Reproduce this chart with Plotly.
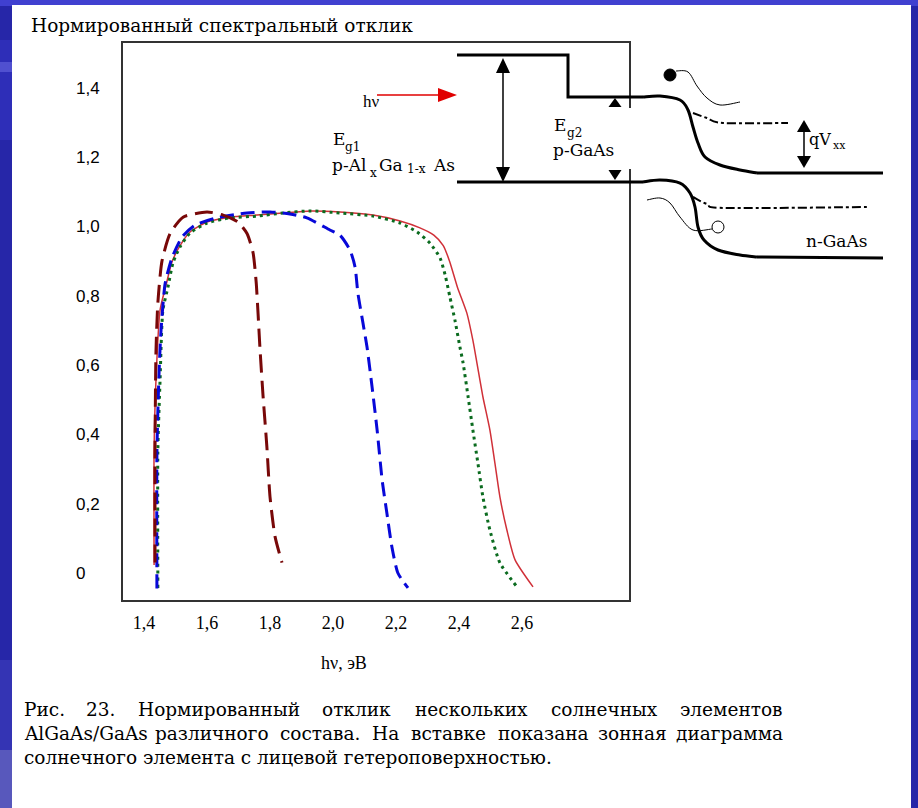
import plotly.graph_objects as go

W, H = 918, 808

# ---------------- data ----------------
x_ticks = [1.4, 1.6, 1.8, 2.0, 2.2, 2.4, 2.6]
x_ticktext = ["1,4", "1,6", "1,8", "2,0", "2,2", "2,4", "2,6"]
y_ticks = [0, 0.2, 0.4, 0.6, 0.8, 1.0, 1.2, 1.4]
y_ticktext = ["0\u2007\u2008", "0,2", "0,4", "0,6", "0,8", "1,0", "1,2", "1,4"]

maroon_x = [1.435, 1.435, 1.438, 1.444, 1.457, 1.483, 1.524, 1.600, 1.651, 1.698,
            1.727, 1.746, 1.756, 1.762, 1.768, 1.778, 1.790, 1.800, 1.816, 1.838]
maroon_y = [0.03, 0.35, 0.64, 0.78, 0.90, 0.98, 1.027, 1.042, 1.033, 1.013,
            0.98, 0.925, 0.84, 0.75, 0.65, 0.51, 0.365, 0.22, 0.105, 0.03]

blue_x = [1.441, 1.441, 1.448, 1.454, 1.467, 1.489, 1.521, 1.562, 1.632, 1.727,
          1.800, 1.863, 1.917, 1.990, 2.022, 2.054, 2.070, 2.079, 2.095, 2.108,
          2.124, 2.140, 2.156, 2.171, 2.187, 2.206, 2.238]
blue_y = [-0.045, 0.35, 0.585, 0.70, 0.835, 0.91, 0.97, 1.004, 1.025, 1.039,
          1.042, 1.036, 1.025, 0.99, 0.975, 0.932, 0.883, 0.808, 0.722, 0.652,
          0.537, 0.413, 0.268, 0.173, 0.075, 0.0, -0.043]

green_x = [1.444, 1.444, 1.451, 1.460, 1.476, 1.492, 1.514, 1.546, 1.600, 1.673,
           1.759, 1.841, 1.927, 2.022, 2.127, 2.213, 2.267, 2.308, 2.340, 2.356,
           2.371, 2.387, 2.403, 2.413, 2.429, 2.444, 2.460, 2.476, 2.498, 2.530, 2.584]
green_y = [-0.043, 0.355, 0.557, 0.759, 0.825, 0.895, 0.941, 0.981, 1.010, 1.025,
           1.030, 1.039, 1.045, 1.039, 1.030, 1.010, 0.984, 0.952, 0.909, 0.860,
           0.797, 0.730, 0.652, 0.606, 0.508, 0.413, 0.317, 0.219, 0.124, 0.029, -0.040]

red_x = [1.432, 1.432, 1.438, 1.451, 1.470, 1.489, 1.514, 1.546, 1.600, 1.673,
         1.759, 1.841, 1.927, 2.022, 2.127, 2.213, 2.276, 2.320, 2.350, 2.370,
         2.395, 2.425, 2.444, 2.457, 2.476, 2.498, 2.514, 2.530, 2.552, 2.578, 2.635]
red_y = [0.023, 0.355, 0.557, 0.759, 0.831, 0.898, 0.944, 0.984, 1.013, 1.027,
         1.033, 1.039, 1.045, 1.042, 1.033, 1.016, 0.996, 0.975, 0.945, 0.900,
         0.825, 0.750, 0.672, 0.606, 0.508, 0.413, 0.317, 0.219, 0.124, 0.038, -0.040]

title_text = "Нормированный спектральный отклик"
xlabel_text = "hν, эВ"
caption_lines = [
    "Рис. 23. Нормированный отклик нескольких солнечных элементов",
    "AlGaAs/GaAs различного состава. На вставке показана зонная диаграмма",
    "солнечного элемента с лицевой гетероповерхностью.",
]

# ---------------- helpers (pixel -> paper) ----------------
def PX(x):
    return x / W


def PY(y):
    return 1 - y / H


def poly(pts):
    return "M " + " L ".join(f"{PX(x):.5f},{PY(y):.5f}" for x, y in pts)


def smooth(pts):
    P = [(PX(x), PY(y)) for x, y in pts]
    d = f"M {P[0][0]:.5f},{P[0][1]:.5f}"
    for i in range(len(P) - 1):
        p0 = P[i - 1] if i > 0 else P[i]
        p1, p2 = P[i], P[i + 1]
        p3 = P[i + 2] if i + 2 < len(P) else P[i + 1]
        c1 = (p1[0] + (p2[0] - p0[0]) / 6, p1[1] + (p2[1] - p0[1]) / 6)
        c2 = (p2[0] - (p3[0] - p1[0]) / 6, p2[1] - (p3[1] - p1[1]) / 6)
        d += f" C {c1[0]:.5f},{c1[1]:.5f} {c2[0]:.5f},{c2[1]:.5f} {p2[0]:.5f},{p2[1]:.5f}"
    return d


def tri(tip, direction, w=12, h=13):
    x, y = tip
    if direction == "up":
        pts = [(x, y), (x - w / 2, y + h), (x + w / 2, y + h)]
    elif direction == "down":
        pts = [(x, y), (x - w / 2, y - h), (x + w / 2, y - h)]
    else:  # right
        pts = [(x, y), (x - h, y - w / 2), (x - h, y + w / 2)]
    return poly(pts) + " Z"


SERIF = "DejaVu Serif"
TSERIF = "Liberation Serif"
SANS = "Liberation Sans"

fig = go.Figure()

fig.add_trace(go.Scatter(x=red_x, y=red_y, mode="lines",
                         line=dict(color="#d03038", width=1.5, shape="spline", smoothing=0.6),
                         showlegend=False, hoverinfo="skip"))
fig.add_trace(go.Scatter(x=green_x, y=green_y, mode="lines",
                         line=dict(color="#0b6b1f", width=3, dash="3px,4px", shape="spline", smoothing=0.6),
                         showlegend=False, hoverinfo="skip"))
fig.add_trace(go.Scatter(x=blue_x, y=blue_y, mode="lines",
                         line=dict(color="#0808d8", width=3, dash="14px,7px", shape="spline", smoothing=0.6),
                         showlegend=False, hoverinfo="skip"))
fig.add_trace(go.Scatter(x=maroon_x, y=maroon_y, mode="lines",
                         line=dict(color="#780808", width=3, dash="18px,8px", shape="spline", smoothing=0.6),
                         showlegend=False, hoverinfo="skip"))

shapes = []


def rect_below(x0, y0, x1, y1, color):
    shapes.append(dict(type="rect", xref="paper", yref="paper", layer="below",
                       x0=PX(x0), x1=PX(x1), y0=PY(y1), y1=PY(y0),
                       fillcolor=color, line=dict(width=0)))


# slide background (blue frame) and the white page
rect_below(0, 0, 918, 6, "#4040d0")
rect_below(0, 40, 12, 140, "#2e2eb8")
rect_below(0, 62, 12, 72, "#5050d0")
rect_below(0, 660, 12, 808, "#3434b4")
rect_below(0, 750, 12, 808, "#5858bc")
rect_below(911, 380, 918, 440, "#4a4ad8")
rect_below(12, 5, 911, 808, "white")

BLK = dict(color="black", width=3)
THIN = dict(color="black", width=1)


def sh_path(path, line=None, fill=None):
    d = dict(type="path", xref="paper", yref="paper", path=path, layer="above")
    d["line"] = line if line else dict(width=0)
    if fill:
        d["fillcolor"] = fill
    shapes.append(d)


# cover the frame where the inset sits
shapes.append(dict(type="rect", xref="paper", yref="paper", layer="above",
                   x0=PX(625), x1=PX(633), y0=PY(169), y1=PY(108),
                   fillcolor="white", line=dict(width=0)))

# conduction band edge
sh_path(poly([(457, 55), (568, 55), (568, 97), (643, 97)]), BLK)
sh_path(smooth([(643, 97), (660, 96), (680, 100), (688, 110), (693, 127), (698, 143),
                (705, 157), (720, 165), (740, 170), (757, 173)]), BLK)
sh_path(poly([(757, 173), (883, 173)]), BLK)
# valence band edge
sh_path(poly([(457, 182), (643, 182)]), BLK)
sh_path(smooth([(643, 182), (660, 180), (680, 183), (690, 193), (695, 207), (698, 227),
                (704, 240), (718, 250), (740, 255), (757, 257)]), BLK)
sh_path(poly([(757, 257), (883, 258)]), BLK)
# quasi-Fermi levels
sh_path(smooth([(693, 113), (707, 118), (723, 123), (788, 123)]),
        dict(color="black", width=2, dash="dashdot"))
sh_path(smooth([(693, 197), (707, 204), (727, 208), (867, 207)]),
        dict(color="black", width=2, dash="dashdot"))
# Eg1 double arrow
sh_path(poly([(503, 66), (503, 174)]), dict(color="black", width=1.5))
sh_path(tri((503, 58), "up", 14, 15), None, "black")
sh_path(tri((503, 182), "down", 14, 15), None, "black")
# Eg2 arrowheads
sh_path(tri((615, 98), "up", 13, 9), None, "black")
sh_path(tri((615, 180), "down", 13, 10), None, "black")
# qV arrow
sh_path(poly([(804, 128), (804, 160)]), dict(color="black", width=1.5))
sh_path(tri((804, 120), "up", 14, 12), None, "black")
sh_path(tri((804, 168), "down", 14, 12), None, "black")
# h nu red arrow
sh_path(poly([(377, 95), (442, 95)]), dict(color="#e00000", width=1.5))
sh_path(tri((457, 95), "right", 14, 19), None, "#e00000")
# electron and hole with their paths
shapes.append(dict(type="circle", xref="paper", yref="paper", layer="above",
                   x0=PX(664), x1=PX(676), y0=PY(81), y1=PY(69),
                   fillcolor="black", line=dict(color="black", width=1)))
sh_path(smooth([(676, 71), (688, 72), (697, 86), (707, 98), (720, 105), (740, 102)]), THIN)
shapes.append(dict(type="circle", xref="paper", yref="paper", layer="above",
                   x0=PX(712), x1=PX(724), y0=PY(233), y1=PY(221),
                   fillcolor="white", line=dict(color="black", width=1)))
sh_path(smooth([(647, 200), (660, 198), (670, 203), (680, 217), (693, 230), (712, 229)]), THIN)

annotations = []


def ann(text, x, y, size=17, font=SERIF, xanchor="left"):
    annotations.append(dict(text=text, x=PX(x), y=PY(y), xref="paper", yref="paper",
                            xanchor=xanchor, yanchor="middle", showarrow=False,
                            font=dict(family=font, size=size, color="black")))


# approximate advance widths (em) for DejaVu Serif, used to justify caption lines
NARROW = {".": 0.32, ",": 0.32, "/": 0.34, "l": 0.32, "s": 0.53, "ы": 0.88, "ю": 0.89,
          "м": 0.79, "Н": 0.75, "A": 0.72, "G": 0.77, "Р": 0.65, "г": 0.5, "з": 0.52,
          "с": 0.55, "э": 0.56, "т": 0.58, "е": 0.59, "2": 0.64, "3": 0.64}


def est_width(word, size):
    return sum(NARROW.get(c, 0.62) for c in word) * size


CAP_SIZE = 18.5


def justified(line, x0, x1, y):
    words = line.split(" ")
    widths = [est_width(w, CAP_SIZE) for w in words]
    gap = (x1 - x0 - sum(widths)) / (len(words) - 1)
    x = x0
    for i, (w, wd) in enumerate(zip(words, widths)):
        if i == 0:
            ann(w, x0, y, size=CAP_SIZE, xanchor="left")
        elif i == len(words) - 1:
            ann(w, x1, y, size=CAP_SIZE, xanchor="right")
        else:
            ann(w, x + wd / 2, y, size=CAP_SIZE, xanchor="center")
        x += wd + gap


ann(title_text, 29, 25, size=18.5)
ann(xlabel_text, 344, 663, size=18, font=TSERIF, xanchor="center")
justified(caption_lines[0], 22, 785, 709)
justified(caption_lines[1], 22, 785, 733)
ann(caption_lines[2], 22, 757, size=CAP_SIZE)

# inset labels (subscripts drawn as smaller texts)
ann("hν", 361, 101, size=17, font=TSERIF)
ann("E", 331, 139, size=17)
ann("g1", 343, 147, size=12)
ann("p-Al", 330, 165, size=17)
ann("x", 368, 173, size=12)
ann("Ga", 377, 165, size=17)
ann("1-x", 405, 169, size=12)
ann("As", 431, 165, size=17)
ann("E", 552, 125, size=17)
ann("g2", 565, 133, size=12)
ann("p-GaAs", 551, 150, size=17)
ann("qV", 807, 139, size=16)
ann("хх", 831, 146, size=11)
ann("n-GaAs", 804, 241, size=17)

fig.update_layout(
    width=W, height=H,
    margin=dict(l=0, r=0, t=0, b=0),
    paper_bgcolor="#2626a8",
    plot_bgcolor="white",
    showlegend=False,
    shapes=shapes,
    annotations=annotations,
    xaxis=dict(domain=[PX(123), PX(629)], range=[1.3333, 2.9397],
               tickvals=x_ticks, ticktext=x_ticktext, ticks="", ticklabelstandoff=5,
               tickfont=dict(family=TSERIF, size=18, color="black"),
               showgrid=False, zeroline=False, showline=True, linecolor="#333333",
               linewidth=2, mirror=True, fixedrange=True),
    yaxis=dict(domain=[PY(600), PY(43)], range=[-0.0779, 1.5296],
               tickvals=y_ticks, ticktext=y_ticktext, ticks="", ticklabelstandoff=18,
               tickfont=dict(family=SANS, size=17, color="black"),
               showgrid=False, zeroline=False, showline=True, linecolor="#333333",
               linewidth=2, mirror=True, fixedrange=True),
)

fig.write_html("out.html", post_script="document.body.style.margin='0px';",
               config={"displayModeBar": False})
